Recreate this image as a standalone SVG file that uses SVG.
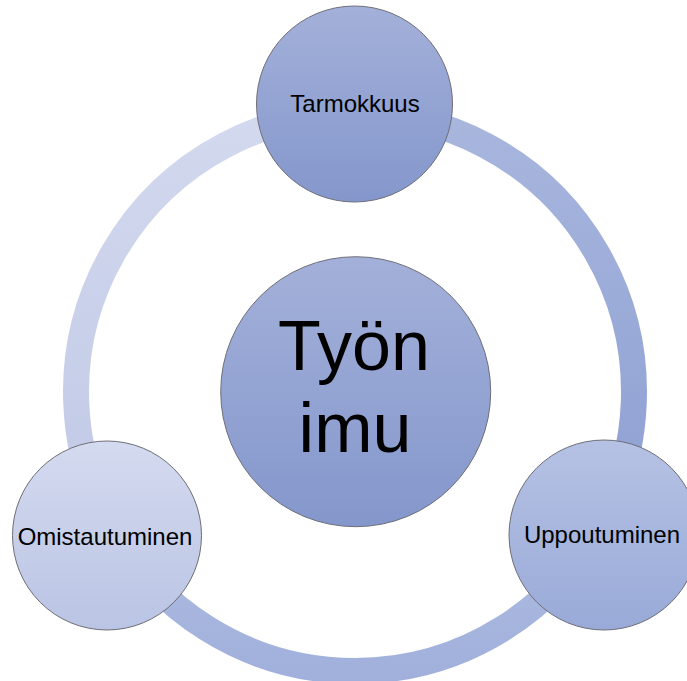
<svg xmlns="http://www.w3.org/2000/svg" width="687" height="681" viewBox="0 0 687 681">
  <defs>
    <linearGradient id="gArcR" gradientUnits="userSpaceOnUse" x1="0" y1="105" x2="0" y2="540">
      <stop offset="0" stop-color="#a9b7de"/>
      <stop offset="1" stop-color="#8c9ed2"/>
    </linearGradient>
    <linearGradient id="gArcB" gradientUnits="userSpaceOnUse" x1="0" y1="520" x2="0" y2="690">
      <stop offset="0" stop-color="#b0bde1"/>
      <stop offset="1" stop-color="#9fafdb"/>
    </linearGradient>
    <linearGradient id="gArcL" gradientUnits="userSpaceOnUse" x1="0" y1="105" x2="0" y2="540">
      <stop offset="0" stop-color="#d3d9ee"/>
      <stop offset="1" stop-color="#bfc8e6"/>
    </linearGradient>
    <linearGradient id="gDark" x1="0" y1="0" x2="0" y2="1">
      <stop offset="0" stop-color="#a3b0d9"/>
      <stop offset="1" stop-color="#8497cc"/>
    </linearGradient>
    <linearGradient id="gLight" x1="0" y1="0" x2="0" y2="1">
      <stop offset="0" stop-color="#d4daef"/>
      <stop offset="1" stop-color="#bac4e4"/>
    </linearGradient>
    <linearGradient id="gMid" x1="0" y1="0" x2="0" y2="1">
      <stop offset="0" stop-color="#b6c2e4"/>
      <stop offset="1" stop-color="#99aad8"/>
    </linearGradient>
  </defs>
  <style>
    .arc { fill: none; stroke-width: 26; }
    .node { stroke: #6e6e78; stroke-width: 1; }
    .lbl { font-family: "Liberation Sans", Arial, sans-serif; font-size: 24px; fill: #000; text-anchor: middle; }
    .big { font-family: "Liberation Sans", Arial, sans-serif; font-size: 70px; fill: #000; text-anchor: middle; }
  </style>
  <rect width="687" height="681" fill="#ffffff"/>
  <g id="connectors">
    <path class="arc" stroke="url(#gArcR)" d="M 355 113 A 279 279 0 0 1 596.6 531.5"/>
    <path class="arc" stroke="url(#gArcB)" d="M 596.6 531.5 A 279 279 0 0 1 113.4 531.5"/>
    <path class="arc" stroke="url(#gArcL)" d="M 113.4 531.5 A 279 279 0 0 1 355 113"/>
  </g>
  <g id="center">
    <circle class="node" cx="355.7" cy="391.7" r="135" fill="url(#gDark)"/>
    <text class="big" x="354" y="370">Työn</text>
    <text class="big" x="355" y="452">imu</text>
  </g>
  <g id="tarmokkuus">
    <circle class="node" cx="354.5" cy="104" r="98" fill="url(#gDark)"/>
    <text class="lbl" x="355" y="112">Tarmokkuus</text>
  </g>
  <g id="omistautuminen">
    <circle class="node" cx="107" cy="535.5" r="94.5" fill="url(#gLight)"/>
    <text class="lbl" x="105" y="545">Omistautuminen</text>
  </g>
  <g id="uppoutuminen">
    <circle class="node" cx="604" cy="535" r="95" fill="url(#gMid)"/>
    <text class="lbl" x="602" y="543">Uppoutuminen</text>
  </g>
</svg>
